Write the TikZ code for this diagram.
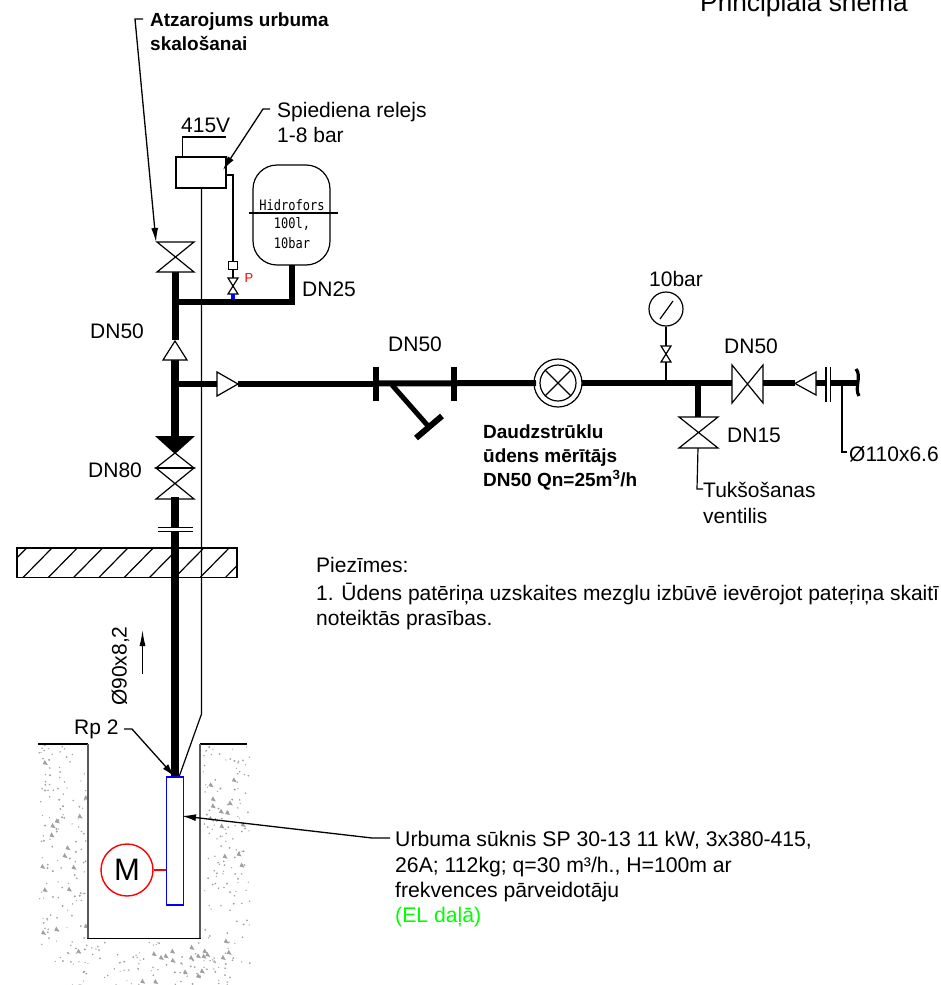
\documentclass[tikz,border=0pt]{standalone}
\usepackage{fontspec}
\setmainfont{Liberation Sans}
\newfontfamily\isofont{DejaVu Sans Mono}
\usetikzlibrary{arrows.meta,calc}
\definecolor{speck}{RGB}{160,160,160}
\tikzset{
 thinl/.style={draw=black,line width=1.2pt},
 pipe/.style={draw=black,line width=6pt},
 pipeb/.style={draw=black,line width=8pt},
 lab/.style={inner sep=0pt,anchor=west,font=\fontsize{21}{25.5}\selectfont,align=left},
 blab/.style={inner sep=0pt,anchor=west,font=\bfseries\fontsize{19}{24}\selectfont,align=left},
 ldr/.style={draw=black,line width=1.3pt,-{Latex[length=14pt,width=7pt]}},
 iso/.style={inner sep=0pt,font=\isofont\fontsize{12}{12}\selectfont,yscale=1.2,transform shape},
}
\begin{document}
\begin{tikzpicture}[x=1pt,y=-1pt]
\useasboundingbox (0,0) rectangle (941,985);
% ground speckle
\pgfmathsetseed{42}
\foreach \xa/\xb/\ya/\yb/\n in {38/86/745/965/130,203/250/745/965/130,70/230/942/985/90}{
 \foreach \i in {1,...,\n}{
  \pgfmathsetmacro\px{\xa+rnd*(\xb-\xa)}
  \pgfmathsetmacro\py{\ya+rnd*(\yb-\ya)}
  \pgfmathsetmacro\pr{0.6+0.5*rnd}
  \fill[speck] (\px,\py) circle (\pr pt);
 }
 \foreach \i in {1,...,16}{
  \pgfmathsetmacro\px{\xa+rnd*(\xb-\xa)}
  \pgfmathsetmacro\py{\ya+rnd*(\yb-\ya)}
  \fill[speck] (\px,\py) -- ++(5,1) -- ++(-3,-5) -- cycle;
 }
}
% well
\draw[line width=1.1pt] (38,744) -- (88,744);
\draw[line width=1.1pt] (200,744) -- (247,744);
\draw[line width=1.2pt,draw=black!65] (88,744) -- (88,938);
\draw[line width=1.2pt,draw=black!65] (200,744) -- (200,938);
\draw[line width=1.2pt] (87,938.5) -- (201,938.5);
% hatched slab
\draw[draw=black,line width=1.4pt] (17,548) rectangle (237,577.5);
\begin{scope}
\clip (17,548) rectangle (237,577.5);
\foreach \k in {-1,...,9}{ \draw[thinl] ({23+\k*25.3},577.5) -- ({52+\k*25.3},548); }
\end{scope}
% cable
\coordinate (relB) at (201.5,188);
\draw[thinl] (relB) -- (201.5,714) -- (179,777);
% pressure relay
\node[draw=black,line width=1.2pt,minimum width=50pt,minimum height=31pt,inner sep=0pt] (relay) at (201,172.5) {};
\draw[thinl] (182.5,157) -- (182.5,137) -- (226,137);
\node[lab,anchor=base west] (v415) at (181,132) {415V};
% impulse line
\node[draw=black,line width=1.2pt,minimum width=9pt,minimum height=8pt,inner sep=0pt] (imp) at (233,265.5) {};
\draw[thinl] (226,175) -- (233,175) -- (imp.north);
\draw[thinl,fill=white] (228,278) -- (238,278) -- (228,294) -- (238,294) -- cycle;
\draw[line width=3.5pt,draw=blue] (233,294) -- (233,300);
\draw[thinl] (imp.south) -- (233,278);
\node[inner sep=0pt,text=red,font=\fontsize{13}{13}\selectfont] (pl) at (249,278) {P};
% tank
\node[draw=black,line width=1.2pt,rounded corners=24pt,minimum width=77pt,minimum height=100pt,inner sep=0pt] (tank) at (291.5,215) {};
\draw[thinl] (249,213) -- (338,213);
\node[iso] (t1) at (292,205) {Hidrofors};
\node[iso] (t2) at (292,224) {100l,};
\node[iso] (t3) at (292,243) {10bar};
% upper pipes
\draw[pipe,miter limit=10] (292,265) -- (292,302) -- (175,302);
\draw[pipeb,line width=7pt] (175,272) -- (175,340);
% flushing valve
\draw[thinl,fill=white] (157,242) -- (194,242) -- (157,272) -- (194,272) -- cycle;
% check up
\draw[pipeb] (175,360) -- (175,440);
\draw[thinl,fill=white] (175,341) -- (187,360) -- (163,360) -- cycle;
% branch
\draw[pipe] (175,384) -- (218,384);
\draw[thinl,fill=white] (217,372) -- (238,384) -- (217,396) -- cycle;
\draw[pipe] (238,384) -- (376,384);
\draw[pipe] (376,383.5) -- (536,383);
% strainer
\draw[draw=black,line width=6pt] (375.5,367) -- (375.5,401);
\draw[draw=black,line width=6pt] (453.5,367) -- (453.5,401);
\draw[draw=black,line width=5pt] (392,385) -- (429,427);
\draw[draw=black,line width=6pt] (416,438) -- (442,416);
% lower pipe and valve
\fill[black] (155,436) -- (195,436) -- (175,454) -- cycle;
\draw[thinl,fill=white] (175,453) -- (194,468) -- (156,468) -- cycle;
\draw[draw=black,line width=1.2pt,fill=white] (156,468) -- (194,468) -- (156,499) -- (194,499) -- cycle;
\draw[draw=black,line width=1.8pt] (156,468) -- (194,468);
\draw[pipeb] (175,497) -- (175,528);
\draw[pipeb] (175,531) -- (175,777);
\draw[thinl] (158,527.5) -- (193,527.5);
\draw[thinl] (158,531.5) -- (193,531.5);
% arrow
\coordinate (up1) at (142.5,674);
\coordinate (up2) at (142.5,630);
\draw[line width=1.2pt,-{Latex[length=16pt,width=6pt]}] (up1) -- (up2);
% pump
\node[draw=blue,line width=1.5pt,minimum width=17pt,minimum height=128pt,inner sep=0pt] (pump) at (175,841) {};
\node[draw=red,line width=1.4pt,circle,minimum size=52pt,inner sep=0pt,font=\fontsize{31}{31}\selectfont] (mot) at (127,870) {M};
\draw[draw=red,line width=1.4pt] (mot.east) -- (pump.west |- mot.east);
% Rp2
\node[lab] (rp) at (74,729) {Rp 2};
\draw[ldr] (124,729) -- (132,729) -- (175,777);
% meter
\node[draw=black,line width=1.2pt,circle,minimum size=48pt,inner sep=0pt] (mo) at (558,383) {};
\node[draw=black,line width=1.2pt,circle,minimum size=36pt,inner sep=0pt] (mi) at (558,383) {};
\draw[thinl] (mi.45) -- (mi.225);
\draw[thinl] (mi.135) -- (mi.315);
\draw[pipe] (582,383) -- (732,383);
% gauge
\node[draw=black,line width=1.2pt,circle,minimum size=34pt,inner sep=0pt] (gauge) at (666,309) {};
\draw[thinl] (660,319) -- (673,301);
\draw[thinl] (gauge.south) -- (666,346);
\draw[thinl,fill=white] (661,346) -- (671,346) -- (661,362) -- (671,362) -- cycle;
\draw[thinl] (666,362) -- (666,383);
\node[lab] (g10) at (649,279) {10bar};
% drain
\draw[pipe] (698,383) -- (698,417);
\draw[thinl,fill=white] (679,417) -- (718,417) -- (679,448) -- (718,448) -- cycle;
\draw[thinl] (698,448) -- (697,489) -- (703,489);
\node[lab] (tuk) at (703,503) {Tukšošanas\\ventilis};
\node[lab] (d15) at (727,435) {DN15};
% DN50 gate
\draw[thinl,fill=white] (732,365) -- (763,403) -- (763,365) -- (732,403) -- cycle;
\draw[pipe] (763,383) -- (795,383);
\draw[thinl,fill=white] (795,383.5) -- (816,372) -- (816,395) -- cycle;
\draw[pipe] (816,383) -- (826,383);
\draw[pipe] (830,383) -- (858,383);
\draw[thinl] (826,367) -- (826,402);
\draw[thinl] (830.5,367) -- (830.5,402);
\draw[line width=3.2pt] (856,369) .. controls (862,376) and (854,388) .. (859,396);
\draw[thinl] (842,383) -- (842,452) -- (847,452);
\node[lab] (dia) at (849,454) {Ø110x6.6};
% labels
\node[lab] (dn50a) at (90,331) {DN50};
\node[lab] (dn80) at (88,470) {DN80};
\node[lab] (dn25) at (302,289) {DN25};
\node[lab] (dn50b) at (388,344) {DN50};
\node[lab] (dn50c) at (724,346) {DN50};
\node[lab] (spied) at (277,122.5) {Spiediena relejs\\1-8 bar};
\node[blab] (atz) at (150,32) {Atzarojums urbuma\\skalošanai};
\node[blab] (dau) at (483,457) {Daudzstrūklu\\ūdens mērītājs\\DN50 Qn=25m\textsuperscript{3}/h};
\node[lab,rotate=90,anchor=west] (dia2) at (120.5,706) {Ø90x8,2};
\node[lab] (pie) at (316,565) {Piezīmes:};
\node[lab] (n1) at (316,606.5) {1. Ūdens patēriņa uzskaites mezglu izbūvē ievērojot pateŗiņa skaitī\\noteiktās prasības.};
\node[lab,anchor=base west,font=\fontsize{26.3}{30}\selectfont] (ttl) at (700,11) {Principiālā shēma};
\node[lab,font=\fontsize{21.2}{25.3}\selectfont] (urb) at (395,879.5) {Urbuma sūknis SP 30-13 11 kW, 3x380-415,\\26A; 112kg; q=30 m³/h., H=100m ar\\frekvences pārveidotāju\\\textcolor{green}{(EL daļā)}};
% leaders
\draw[ldr] (143,19) -- (135,19) -- (156,242);
\draw[ldr] (270,109) -- (263,109) -- (223,170);
\draw[ldr] (390,838) -- (372,838) -- (182,816);
\end{tikzpicture}
\end{document}
